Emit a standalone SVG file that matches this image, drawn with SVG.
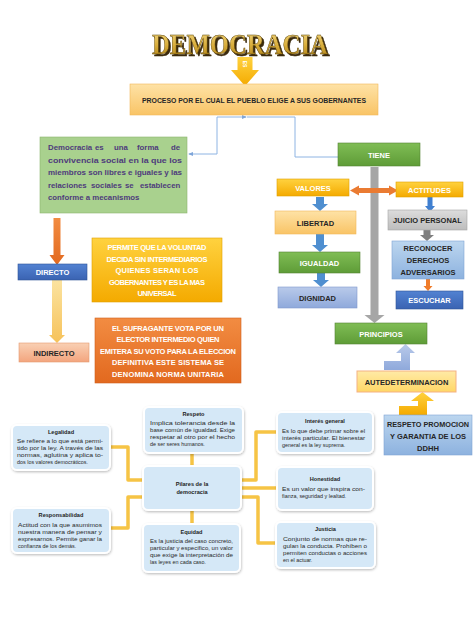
<svg xmlns="http://www.w3.org/2000/svg" width="474" height="632" viewBox="0 0 474 632">
<defs>
<linearGradient id="gPeach" x1="0" y1="0" x2="0" y2="1"><stop offset="0" stop-color="#FEE2A6"/><stop offset="1" stop-color="#F9C466"/></linearGradient>
<linearGradient id="gGreen" x1="0" y1="0" x2="0" y2="1"><stop offset="0" stop-color="#80BD55"/><stop offset="1" stop-color="#5E9C37"/></linearGradient>
<linearGradient id="gGold" x1="0" y1="0" x2="0" y2="1"><stop offset="0" stop-color="#FFD23F"/><stop offset="1" stop-color="#F4AA00"/></linearGradient>
<linearGradient id="gLav" x1="0" y1="0" x2="0" y2="1"><stop offset="0" stop-color="#B9CAEA"/><stop offset="1" stop-color="#8FA9DB"/></linearGradient>
<linearGradient id="gGray" x1="0" y1="0" x2="0" y2="1"><stop offset="0" stop-color="#DCDCDC"/><stop offset="1" stop-color="#BDBDBD"/></linearGradient>
<linearGradient id="gLBlue" x1="0" y1="0" x2="0" y2="1"><stop offset="0" stop-color="#BCD6EF"/><stop offset="1" stop-color="#8DB2DF"/></linearGradient>
<linearGradient id="gBlue" x1="0" y1="0" x2="0" y2="1"><stop offset="0" stop-color="#5282D2"/><stop offset="1" stop-color="#3A63B2"/></linearGradient>
<linearGradient id="gSalmon" x1="0" y1="0" x2="0" y2="1"><stop offset="0" stop-color="#F9D0B4"/><stop offset="1" stop-color="#F3A57E"/></linearGradient>
<linearGradient id="gOrange" x1="0" y1="0" x2="0" y2="1"><stop offset="0" stop-color="#F28C42"/><stop offset="1" stop-color="#E2691F"/></linearGradient>
<linearGradient id="gYellow" x1="0" y1="0" x2="0" y2="1"><stop offset="0" stop-color="#FFEAA6"/><stop offset="1" stop-color="#FFD766"/></linearGradient>
<linearGradient id="gLightArrow" x1="0" y1="0" x2="0" y2="1"><stop offset="0" stop-color="#FBE3A0"/><stop offset="1" stop-color="#F6C25A"/></linearGradient>
<linearGradient id="gTitle" x1="0" y1="0" x2="0" y2="1"><stop offset="0" stop-color="#F6DE8E"/><stop offset="0.55" stop-color="#D9AE3C"/><stop offset="1" stop-color="#A87B16"/></linearGradient>
<filter id="sh" x="-10%" y="-10%" width="130%" height="140%"><feDropShadow dx="0.6" dy="1.2" stdDeviation="1.2" flood-color="#000" flood-opacity="0.25"/></filter>
<filter id="tsh" x="-5%" y="-20%" width="115%" height="150%"><feDropShadow dx="2" dy="2" stdDeviation="0.4" flood-color="#3B2C0E" flood-opacity="1"/></filter>
<marker id="mArr" viewBox="0 0 6 6" refX="5" refY="3" markerWidth="5" markerHeight="5" orient="auto"><path d="M0,0.5 L6,3 L0,5.5 Z" fill="#7FA6D9"/></marker>
</defs>
<style>
.t{font-family:"Liberation Sans",Arial,sans-serif;font-weight:bold;text-anchor:middle}
.w{fill:#FFFFFF}
.d{fill:#262626}
.box{stroke-width:0.6}
.mm{fill:#D5E8F7;stroke:#FFFFFF;stroke-width:2}
.mt{font-family:"Liberation Sans",Arial,sans-serif;font-size:5.6px;font-weight:bold;fill:#1E1E1E;text-anchor:middle}
.mb{font-family:"Liberation Sans",Arial,sans-serif;font-size:5.4px;fill:#2A2A2A}
.cn{fill:none;stroke:#F6C445;stroke-width:3.5;stroke-linejoin:round}
.bl{fill:none;stroke:#8EB4E3;stroke-width:1}
.gt{font-family:"Liberation Sans",Arial,sans-serif;font-weight:bold;font-size:7.8px;fill:#4E3B7C}
</style>
<rect width="474" height="632" fill="#FFFFFF"/>

<g id="title">
<text x="240" y="54" font-family="'Liberation Serif','Times New Roman',serif" font-weight="bold" font-size="30" fill="url(#gTitle)" stroke="#5A4208" stroke-width="0.5" textLength="176" lengthAdjust="spacingAndGlyphs" text-anchor="middle" filter="url(#tsh)">DEMOCRACIA</text>
</g>

<g id="connectors">
<polygon points="237.5,57 252.5,57 252.5,70 259,70 245,86 231,70 237.5,70" fill="url(#gGold)"/>
<text x="0" y="0" transform="translate(243,64) rotate(90)" font-family="'Liberation Sans',Arial,sans-serif" font-size="5" font-weight="bold" fill="#FFFFFF" text-anchor="middle">ES</text>
<path class="bl" d="M217,117 H246" marker-end="url(#mArr)"/>
<path class="bl" d="M247,117 H295 V157 H338"/>
<path class="bl" d="M217,117 V154 H189" marker-end="url(#mArr)"/>
<polygon points="53.5,218 60.5,218 60.5,255 64.5,255 57,265 49.5,255 53.5,255" fill="url(#gOrange)"/>
<polygon points="52,280 62,280 62,335 65,335 57,343 49,335 52,335" fill="url(#gLightArrow)"/>
<polygon points="370.5,167 378.5,167 378.5,315 384.5,315 374.5,323 364.5,315 370.5,315" fill="#A6A6A6"/>
<polygon points="350,190.5 359,185.5 359,188 389,188 389,185.5 398,190.5 389,195.5 389,193 359,193 359,195.5" fill="#EA7B32"/>
<polygon points="316,197 324,197 324,204 328,204 320,211 312,204 316,204" fill="#4F8FD0"/>
<polygon points="316,234 324,234 324,245 328,245 320,252 312,245 316,245" fill="#4F8FD0"/>
<polygon points="317,273 325,273 325,280 329,280 321,287 313,280 317,280" fill="#4F8FD0"/>
<polygon points="427.5,197 432.5,197 432.5,206 435,206 430,212 425,206 427.5,206" fill="#3F7FD0"/>
<polygon points="423.5,230 430.5,230 430.5,235 434,235 427,241 420,235 423.5,235" fill="#7F7F7F"/>
<polygon points="426,279 430,279 430,286 432.5,286 428,291 423.5,286 426,286" fill="#F07C2A"/>
<polygon points="384,361 401,361 401,353 396,353 405.5,344 415,353 410,353 410,370 384,370" fill="url(#gLav)"/>
<polygon points="399,406 418,406 418,401 411,401 422.5,392 434,401 427,401 427,415 399,415" fill="url(#gGold)"/>
<path class="cn" d="M110,447 H128 V480 H143"/>
<path class="cn" d="M143,497 H128 V528 H110"/>
<path class="cn" d="M192,453 V466"/>
<path class="cn" d="M192,510 V524"/>
<path class="cn" d="M241,480 H256 V432 H277"/>
<path class="cn" d="M241,488 H277"/>
<path class="cn" d="M241,497 H258 V543 H276"/>
</g>

<g id="proceso">
<rect x="130" y="84" width="248" height="31" fill="url(#gPeach)" stroke="#F2B75A" class="box"/>
<text x="254" y="102.5" class="t d" font-size="8" textLength="224" lengthAdjust="spacingAndGlyphs">PROCESO POR EL CUAL EL PUEBLO ELIGE A SUS GOBERNANTES</text>
</g>

<g id="definicion">
<rect x="40" y="137" width="147" height="76" fill="#A9D18E" stroke="#8CB56E" class="box"/>
<text y="150" class="gt"><tspan x="48">Democracia</tspan><tspan x="95">es</tspan><tspan x="114">una</tspan><tspan x="137">forma</tspan><tspan x="171">de</tspan></text>
<text x="48" y="162.5" class="gt" textLength="134" lengthAdjust="spacingAndGlyphs">convivencia social en la que los</text>
<text x="48" y="175" class="gt" textLength="134" lengthAdjust="spacingAndGlyphs">miembros son libres e iguales y las</text>
<text y="187.5" class="gt"><tspan x="48">relaciones</tspan><tspan x="91">sociales</tspan><tspan x="125">se</tspan><tspan x="140">establecen</tspan></text>
<text x="48" y="200" class="gt">conforme a mecanismos</text>
</g>

<g id="directo">
<rect x="18" y="264" width="69" height="16" fill="url(#gBlue)" stroke="#2F5597" class="box"/>
<text x="52.5" y="275" class="t w" font-size="7.5">DIRECTO</text>
</g>

<g id="indirecto">
<rect x="19" y="343" width="70" height="19" fill="url(#gSalmon)" stroke="#E39A70" class="box"/>
<text x="54" y="355.5" class="t d" font-size="7.5">INDIRECTO</text>
</g>

<g id="permite">
<rect x="92" y="238" width="130" height="64" fill="url(#gGold)" stroke="#E0A000" class="box"/>
<g class="t w" font-size="7.5" lengthAdjust="spacingAndGlyphs">
<text x="157" y="250" textLength="99">PERMITE QUE LA VOLUNTAD</text>
<text x="157" y="261.5" textLength="101">DECIDA SIN INTERMEDIARIOS</text>
<text x="157" y="273" textLength="83">QUIENES SERAN LOS</text>
<text x="157" y="284.5" textLength="96">GOBERNANTES Y ES LA MAS</text>
<text x="157" y="296" textLength="39">UNIVERSAL</text>
</g>
</g>

<g id="sufragante">
<rect x="95" y="318" width="146" height="65" fill="url(#gOrange)" stroke="#D0601C" class="box"/>
<g class="t w" font-size="7.5" lengthAdjust="spacingAndGlyphs">
<text x="168" y="330.5" textLength="112">EL SUFRAGANTE VOTA POR UN</text>
<text x="168" y="342" textLength="103">ELECTOR INTERMEDIO QUIEN</text>
<text x="168" y="353.5" textLength="136">EMITERA SU VOTO PARA LA ELECCION</text>
<text x="168" y="365" textLength="112">DEFINITIVA ESTE SISTEMA SE</text>
<text x="168" y="376.5" textLength="112">DENOMINA NORMA UNITARIA</text>
</g>
</g>

<g id="tiene">
<rect x="338" y="143" width="82" height="23" fill="url(#gGreen)" stroke="#548235" class="box"/>
<text x="379" y="157.5" class="t w" font-size="7.5">TIENE</text>
</g>

<g id="valores">
<rect x="277" y="179" width="72" height="17" fill="url(#gGold)" stroke="#E0A000" class="box"/>
<text x="313" y="190.5" class="t w" font-size="7.5">VALORES</text>
</g>

<g id="actitudes">
<rect x="396" y="182" width="67" height="15" fill="url(#gGold)" stroke="#E0A000" class="box"/>
<text x="429.5" y="192.5" class="t w" font-size="7.5">ACTITUDES</text>
</g>

<g id="libertad">
<rect x="275" y="211" width="81" height="23" fill="url(#gPeach)" stroke="#F2B75A" class="box"/>
<text x="315.5" y="225.5" class="t d" font-size="7.5">LIBERTAD</text>
</g>

<g id="igualdad">
<rect x="279" y="252" width="81" height="21" fill="url(#gGreen)" stroke="#548235" class="box"/>
<text x="319.5" y="265.5" class="t w" font-size="7.5">IGUALDAD</text>
</g>

<g id="dignidad">
<rect x="278" y="287" width="79" height="21" fill="url(#gLav)" stroke="#7F98CC" class="box"/>
<text x="317.5" y="300.5" class="t d" font-size="7.5">DIGNIDAD</text>
</g>

<g id="juicio">
<rect x="388" y="210" width="79" height="20" fill="url(#gGray)" stroke="#A6A6A6" class="box"/>
<text x="427.5" y="222.5" class="t d" font-size="7.5">JUICIO PERSONAL</text>
</g>

<g id="reconocer">
<rect x="392" y="241" width="72" height="38" fill="url(#gLBlue)" stroke="#7FA3D3" class="box"/>
<text x="428" y="251" class="t d" font-size="7.5">RECONOCER</text>
<text x="428" y="263" class="t d" font-size="7.5">DERECHOS</text>
<text x="428" y="275" class="t d" font-size="7.5">ADVERSARIOS</text>
</g>

<g id="escuchar">
<rect x="396" y="291" width="67" height="18" fill="url(#gBlue)" stroke="#2F5597" class="box"/>
<text x="429.5" y="302.5" class="t w" font-size="7.5">ESCUCHAR</text>
</g>

<g id="principios">
<rect x="335" y="323" width="92" height="21" fill="url(#gGreen)" stroke="#548235" class="box"/>
<text x="381" y="336.5" class="t w" font-size="7.5">PRINCIPIOS</text>
</g>

<g id="autedeterminacion">
<rect x="357" y="371" width="99" height="21" fill="url(#gYellow)" stroke="#F4B183" stroke-width="1"/>
<text x="406.5" y="384.5" class="t d" font-size="7.5">AUTEDETERMINACION</text>
</g>

<g id="respeto-ddhh">
<rect x="384" y="415" width="88" height="40" fill="url(#gLBlue)" stroke="#7FA3D3" class="box"/>
<text x="428" y="427" class="t d" font-size="7.6" textLength="82" lengthAdjust="spacingAndGlyphs">RESPETO PROMOCION</text>
<text x="428" y="439" class="t d" font-size="7.6" textLength="76" lengthAdjust="spacingAndGlyphs">Y GARANTIA DE LOS</text>
<text x="428" y="451" class="t d" font-size="7.6">DDHH</text>
</g>

<g id="legalidad">
<rect x="12" y="425" width="98" height="45" rx="5" class="mm" filter="url(#sh)"/>
<text x="61" y="434" class="mt">Legalidad</text>
<text x="17" y="443" class="mb" textLength="86" lengthAdjust="spacingAndGlyphs">Se refiere a lo que está permi-</text>
<text x="17" y="450" class="mb" textLength="86" lengthAdjust="spacingAndGlyphs">tido por la ley. A través de las</text>
<text x="17" y="457" class="mb" textLength="86" lengthAdjust="spacingAndGlyphs">normas, aglutina y aplica to-</text>
<text x="17" y="464" class="mb">dos los valores democráticos.</text>
</g>

<g id="respeto">
<rect x="144" y="407" width="99" height="46" rx="5" class="mm" filter="url(#sh)"/>
<text x="193.5" y="415.5" class="mt">Respeto</text>
<text x="150" y="425" class="mb" textLength="85" lengthAdjust="spacingAndGlyphs">Implica tolerancia desde la</text>
<text x="150" y="432" class="mb" textLength="85" lengthAdjust="spacingAndGlyphs">base común de igualdad. Exige</text>
<text x="150" y="439" class="mb" textLength="85" lengthAdjust="spacingAndGlyphs">respetar al otro por el hecho</text>
<text x="150" y="446" class="mb">de ser seres humanos.</text>
</g>

<g id="pilares">
<rect x="143" y="466" width="98" height="44" rx="5" class="mm" filter="url(#sh)"/>
<text x="192" y="486" class="mt">Pilares de la</text>
<text x="192" y="494" class="mt">democracia</text>
</g>

<g id="interes">
<rect x="277" y="412" width="96" height="41" rx="5" class="mm" filter="url(#sh)"/>
<text x="325" y="423" class="mt">Interés general</text>
<text x="282" y="432.5" class="mb" textLength="83" lengthAdjust="spacingAndGlyphs">Es lo que debe primar sobre el</text>
<text x="282" y="439.5" class="mb" textLength="83" lengthAdjust="spacingAndGlyphs">interés particular. El bienestar</text>
<text x="282" y="446.5" class="mb">general es la ley suprema.</text>
</g>

<g id="honestidad">
<rect x="277" y="467" width="96" height="43" rx="5" class="mm" filter="url(#sh)"/>
<text x="325" y="481" class="mt">Honestidad</text>
<text x="282" y="490.5" class="mb" textLength="83" lengthAdjust="spacingAndGlyphs">Es un valor que inspira con-</text>
<text x="282" y="497.5" class="mb">fianza, seguridad y lealtad.</text>
</g>

<g id="justicia">
<rect x="276" y="522" width="99" height="46" rx="5" class="mm" filter="url(#sh)"/>
<text x="325.5" y="531" class="mt">Justicia</text>
<text x="283" y="540.5" class="mb" textLength="84" lengthAdjust="spacingAndGlyphs">Conjunto de normas que re-</text>
<text x="283" y="547.5" class="mb" textLength="84" lengthAdjust="spacingAndGlyphs">gulan la conducta. Prohíben o</text>
<text x="283" y="554.5" class="mb" textLength="84" lengthAdjust="spacingAndGlyphs">permiten conductas o acciones</text>
<text x="283" y="561.5" class="mb">en el actuar.</text>
</g>

<g id="equidad">
<rect x="143" y="524" width="97" height="48" rx="5" class="mm" filter="url(#sh)"/>
<text x="191.5" y="533.5" class="mt">Equidad</text>
<text x="150" y="543" class="mb" textLength="83" lengthAdjust="spacingAndGlyphs">Es la justicia del caso concreto,</text>
<text x="150" y="550" class="mb" textLength="83" lengthAdjust="spacingAndGlyphs">particular y específico, un valor</text>
<text x="150" y="557" class="mb" textLength="83" lengthAdjust="spacingAndGlyphs">que exige la interpretación de</text>
<text x="150" y="564" class="mb">las leyes en cada caso.</text>
</g>

<g id="responsabilidad">
<rect x="12" y="508" width="98" height="45" rx="5" class="mm" filter="url(#sh)"/>
<text x="61" y="517" class="mt">Responsabilidad</text>
<text x="18" y="526.5" class="mb" textLength="84" lengthAdjust="spacingAndGlyphs">Actitud con la que asumimos</text>
<text x="18" y="533.5" class="mb" textLength="84" lengthAdjust="spacingAndGlyphs">nuestra manera de pensar y</text>
<text x="18" y="540.5" class="mb" textLength="84" lengthAdjust="spacingAndGlyphs">expresarnos. Permite ganar la</text>
<text x="18" y="547.5" class="mb">confianza de los demás.</text>
</g>
</svg>
